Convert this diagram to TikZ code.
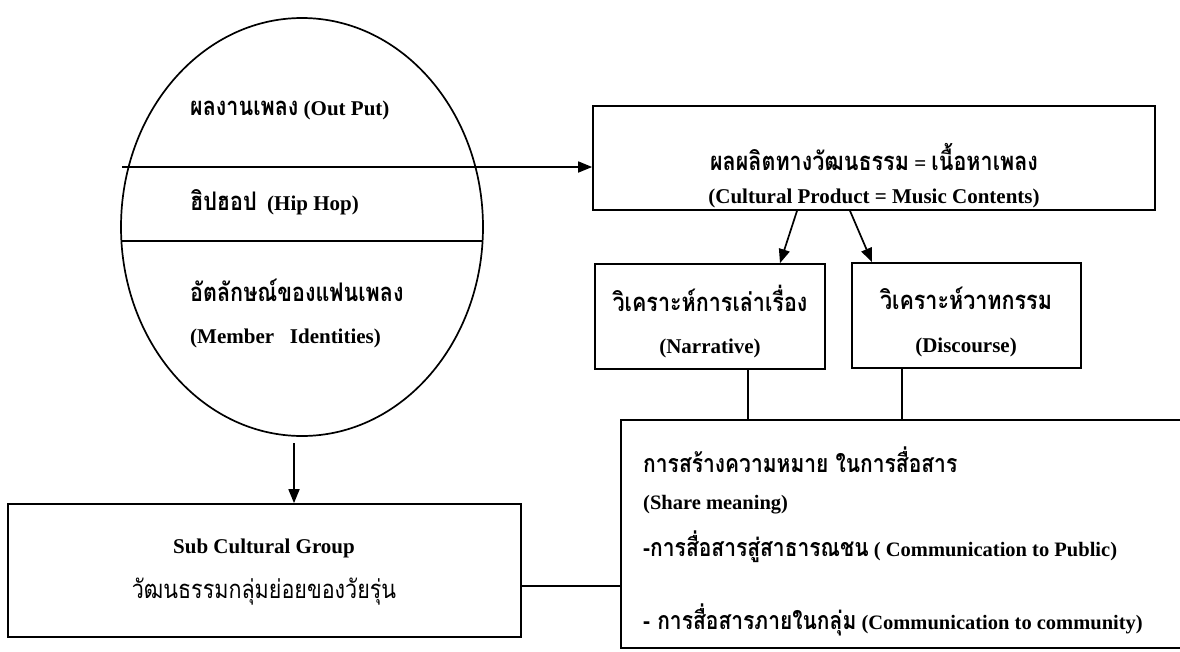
\documentclass[tikz,border=0pt]{standalone}
\usepackage{fontspec}
\setmainfont{Liberation Serif}
\newfontfamily\thx[Script=Thai,Scale=1.22,FakeStretch=0.84]{Loma}
\usetikzlibrary{shapes.geometric,arrows.meta}
\begin{document}
\begin{tikzpicture}[x=1pt,y=-1pt,
  box/.style={draw, line width=1.7pt, inner sep=0pt},
  conn/.style={line width=1.7pt},
  arr/.style={conn, -{Triangle[length=14pt,width=11pt]}},
  lbl/.style={font=\fontsize{21}{25}\selectfont\bfseries, inner sep=0pt},
  lbls/.style={font=\fontsize{20.5}{24}\selectfont\bfseries, inner sep=0pt}]
\useasboundingbox[fill=white] (0,0) rectangle (1180,651);
% ellipse
\node[draw, ellipse, line width=1.7pt, minimum width=362pt, minimum height=418pt, inner sep=0pt] (ell) at (302,227) {};
\coordinate (l1s) at (122,167);
\coordinate (l2s) at (121.5,241);
\coordinate (l2e) at (482.5,241);
\draw[conn] (l2s) -- (l2e);
% boxes
\node[box, minimum width=562pt, minimum height=104pt] (top) at (874,158) {};
\node[box, minimum width=230pt, minimum height=105pt] (nar) at (710,316.5) {};
\node[box, minimum width=229pt, minimum height=105pt] (dis) at (966.5,315.5) {};
\node[box, minimum width=579pt, minimum height=228pt] (br) at (910.5,534) {};
\node[box, minimum width=513pt, minimum height=133pt] (bl) at (264.5,570.5) {};
% connectors
\draw[arr] (l1s) -- (l1s -| top.west);
\draw[arr] ([xshift=-77pt]top.south) -- ([xshift=70pt]nar.north);
\draw[arr] ([xshift=-24pt]top.south) -- ([xshift=-94.5pt]dis.north);
\draw[conn] ([xshift=38pt]nar.south) -- ([xshift=38pt]nar.south |- br.north);
\draw[conn] ([xshift=-64.5pt]dis.south) -- ([xshift=-64.5pt]dis.south |- br.north);
\coordinate (a1) at (294,443);
\draw[arr] (a1) -- (a1 |- bl.north);
\coordinate (c1) at (0,586);
\draw[conn] (c1 -| bl.east) -- (c1 -| br.west);
% texts
\node[lbl, anchor=west] (t1) at (190,110) {{\thx ผลงานเพลง} (Out Put)};
\node[lbl, anchor=west] (t2) at (190,202) {{\thx ฮิปฮอป}\ \ (Hip Hop)};
\node[lbl, anchor=west] (t3) at (190,290) {\thx อัตลักษณ์ของแฟนเพลง};
\node[lbl, anchor=west] (t4) at (190,338) {(Member\ \ \ Identities)};
\node[lbl] (t5) at (874,157) {{\thx ผลผลิตทางวัฒนธรรม} = {\thx เนื้อหาเพลง}};
\node[lbl] (t6) at (874,198) {(Cultural Product = Music Contents)};
\node[lbl] (t7) at (710,298) {\thx วิเคราะห์การเล่าเรื่อง};
\node[lbl] (t8) at (710,348) {(Narrative)};
\node[lbl] (t9) at (966,298) {\thx วิเคราะห์วาทกรรม};
\node[lbl] (t10) at (966,347) {(Discourse)};
\node[lbls, anchor=west] (t11) at (643,460) {\thx การสร้างความหมาย ในการสื่อสาร};
\node[lbls, anchor=west] (t12) at (643,505) {(Share meaning)};
\node[lbls, anchor=west] (t13) at (643,547) {{\thx -การสื่อสารสู่สาธารณชน} ( Communication to Public)};
\node[lbls, anchor=west] (t14) at (643,620) {{\thx - การสื่อสารภายในกลุ่ม} (Communication to community)};
\node[lbl] (t15) at (264,548) {Sub Cultural Group};
\node[lbl, font=\fontsize{21}{25}\selectfont] (t16) at (264,592) {\thx วัฒนธรรมกลุ่มย่อยของวัยรุ่น};
\end{tikzpicture}
\end{document}
